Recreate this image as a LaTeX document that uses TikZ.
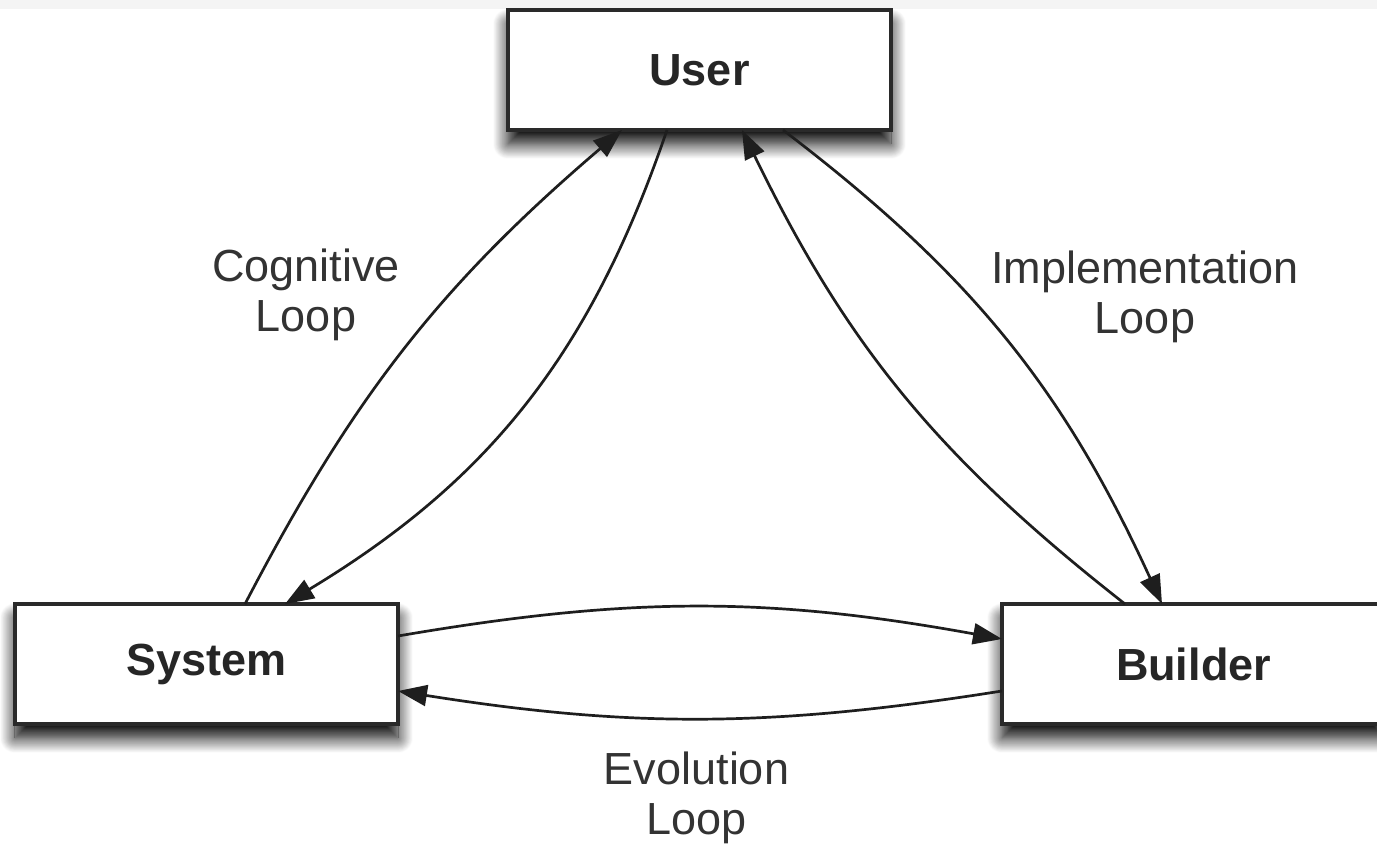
\documentclass[tikz,border=0pt]{standalone}
\usepackage{fontspec}
\setmainfont{Liberation Sans}
\usetikzlibrary{arrows.meta,shadows.blur}
\definecolor{edgegray}{HTML}{1E1E1E}
\definecolor{boxline}{HTML}{2A2A2A}
\definecolor{labelgray}{HTML}{333333}
\definecolor{bandgray}{HTML}{F4F4F4}
\tikzset{
  actor/.style={draw=boxline, line width=3.5pt, fill=white, rectangle,
    minimum width=383pt, minimum height=120pt, outer sep=0pt, inner sep=0pt,
    font=\fontsize{45}{50}\selectfont\bfseries, text=black!85,
    blur shadow={shadow xshift=0pt, shadow yshift=-14pt,
      shadow blur radius=15pt, shadow blur steps=20, shadow opacity=100}},
  looplabel/.style={align=center, inner sep=0pt, text=labelgray,
    font=\fontsize{45}{50}\selectfont},
  flow/.style={draw=edgegray, line width=2.7pt,
    -{Triangle[length=29pt, width=21pt]}}
}
\begin{document}
\begin{tikzpicture}[x=1pt, y=1pt]
  \useasboundingbox (0,0) rectangle (1377,848);
  \clip (0,0) rectangle (1377,848);
  \fill[bandgray] (0,839) rectangle (1377,848);

  % the three parties
  \node[actor] (user)    at (699.5,778) {User};
  \node[actor] (system)  at (206.5,184) {System};
  \node[actor] (builder) at (1193.5,184) {Builder};

  % loop labels
  \node[looplabel] (cog)  at (306,553)  {Cognitive\\Loop};
  \node[looplabel] (impl) at (1145,551) {Implementation\\Loop};
  \node[looplabel] (evo)  at (696.5,50) {Evolution\\Loop};

  % cognitive loop: system <-> user
  \draw[flow] ([xshift=230pt]system.north west) to[bend left=11]
              ([xshift=114pt]user.south west);
  \draw[flow] ([xshift=159pt]user.south west) to[bend left=20]
              ([xshift=270pt]system.north west);

  % implementation loop: user <-> builder
  \draw[flow] ([xshift=275pt]user.south west) to[bend left=14]
              ([xshift=160pt]builder.north west);
  \draw[flow] ([xshift=123pt]builder.north west) to[bend left=13]
              ([xshift=234pt]user.south west);

  % evolution loop: system <-> builder
  \draw[flow] ([yshift=-32pt]system.north east) to[bend left=10]
              ([yshift=-35pt]builder.north west);
  \draw[flow] ([yshift=-87pt]builder.north west) to[bend left=9]
              ([yshift=-87pt]system.north east);
\end{tikzpicture}
\end{document}
